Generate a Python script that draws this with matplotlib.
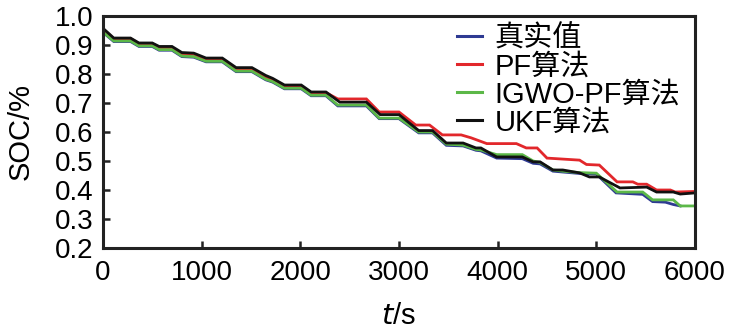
import matplotlib
matplotlib.use("Agg")
import matplotlib.pyplot as plt
from matplotlib import font_manager

# --- data ---
t_ukf = [0, 110, 280, 365, 500, 570, 700, 800, 920, 1045, 1210, 1350, 1510, 1650,
         1720, 1840, 2010, 2110, 2260, 2400, 2670, 2810, 3000, 3200, 3340, 3480,
         3650, 3780, 3830, 3990, 4250, 4360, 4430, 4560, 4660, 4830, 4930, 5030,
         5240, 5510, 5610, 5780, 5850, 6000]
soc_ukf = [0.958, 0.924, 0.924, 0.907, 0.907, 0.895, 0.895, 0.874, 0.872, 0.855,
           0.855, 0.822, 0.822, 0.795, 0.785, 0.762, 0.762, 0.738, 0.738, 0.703,
           0.703, 0.660, 0.660, 0.605, 0.605, 0.562, 0.562, 0.545, 0.545, 0.514,
           0.514, 0.497, 0.497, 0.469, 0.469, 0.459, 0.445, 0.445, 0.407, 0.410,
           0.393, 0.393, 0.386, 0.390]

t_pf = [0, 110, 280, 365, 500, 570, 700, 800, 920, 1045, 1210, 1350, 1510, 1650,
        1720, 1840, 2010, 2110, 2260, 2380, 2670, 2800, 3000, 3170, 3310, 3440,
        3630, 3730, 3890, 4190, 4290, 4400, 4500, 4830, 4900, 5030, 5210, 5370,
        5420, 5510, 5610, 5750, 5800, 6000]
soc_pf = [0.955, 0.922, 0.922, 0.905, 0.905, 0.891, 0.891, 0.870, 0.868, 0.851,
          0.851, 0.818, 0.818, 0.790, 0.782, 0.758, 0.758, 0.736, 0.736, 0.714,
          0.714, 0.669, 0.669, 0.624, 0.624, 0.590, 0.590, 0.580, 0.560, 0.560,
          0.545, 0.545, 0.510, 0.503, 0.488, 0.486, 0.428, 0.428, 0.420, 0.420,
          0.400, 0.400, 0.393, 0.395]

t_igwo = [0, 110, 280, 365, 500, 570, 700, 800, 920, 1045, 1210, 1350, 1510, 1650,
          1720, 1840, 2010, 2110, 2260, 2380, 2670, 2800, 3000, 3200, 3340, 3480,
          3650, 3780, 3830, 3990, 4250, 4360, 4430, 4560, 4660, 4830, 5000, 5210,
          5470, 5570, 5780, 5850, 6000]
soc_igwo = [0.945, 0.914, 0.914, 0.897, 0.897, 0.884, 0.884, 0.862, 0.860, 0.844,
            0.844, 0.810, 0.810, 0.782, 0.774, 0.751, 0.751, 0.727, 0.727, 0.693,
            0.693, 0.648, 0.648, 0.600, 0.600, 0.558, 0.555, 0.540, 0.538, 0.522,
            0.522, 0.500, 0.495, 0.469, 0.465, 0.460, 0.458, 0.393, 0.393, 0.366,
            0.366, 0.345, 0.345]

t_true = [0, 110, 280, 365, 500, 570, 700, 800, 920, 1045, 1210, 1350, 1510, 1650,
          1720, 1840, 2010, 2110, 2260, 2380, 2670, 2800, 3000, 3200, 3340, 3480,
          3650, 3780, 3830, 3990, 4250, 4360, 4430, 4560, 4660, 4830, 5000, 5200,
          5470, 5570, 5700, 5780, 5850]
soc_true = [0.944, 0.912, 0.912, 0.895, 0.895, 0.882, 0.882, 0.860, 0.858, 0.842,
            0.842, 0.808, 0.808, 0.780, 0.772, 0.749, 0.749, 0.725, 0.725, 0.690,
            0.690, 0.646, 0.646, 0.597, 0.597, 0.554, 0.552, 0.537, 0.535, 0.510,
            0.508, 0.492, 0.490, 0.465, 0.462, 0.457, 0.455, 0.390, 0.385, 0.360,
            0.358, 0.350, 0.345]

labels = ["真实值", "PF算法", "IGWO-PF算法", "UKF算法"]
colors = ["#2e3a92", "#e2272b", "#5cb848", "#111111"]

xticks = [0, 1000, 2000, 3000, 4000, 5000, 6000]
yticks = [0.2, 0.3, 0.4, 0.5, 0.6, 0.7, 0.8, 0.9, 1.0]

names = {f.name for f in font_manager.fontManager.ttflist}
latin = "Liberation Sans Narrow" if "Liberation Sans Narrow" in names else "Liberation Sans"
fam = [latin, "Noto Sans CJK SC", "DejaVu Sans"]
plt.rcParams["font.family"] = fam

fig = plt.figure(figsize=(7.35, 3.3), dpi=100)
ax = fig.add_axes([0.140, 0.2485, 0.8056, 0.703])

series = [(t_true, soc_true), (t_pf, soc_pf), (t_igwo, soc_igwo), (t_ukf, soc_ukf)]
for (t, s), lab, c in zip(series, labels, colors):
    ax.plot(t, s, color=c, lw=2.0, label=lab, solid_joinstyle="miter")

ax.set_xlim(0, 6000)
ax.set_ylim(0.2, 1.0)
ax.set_xticks(xticks)
ax.set_yticks(yticks)
ax.set_yticklabels([f"{v:.1f}" for v in yticks])
ax.tick_params(axis="both", direction="in", length=5, width=1.8, labelsize=20,
               color="#222222")
ax.tick_params(axis="x", pad=9)
ax.tick_params(axis="y", pad=7)
for sp in ax.spines.values():
    sp.set_linewidth(2.2)
    sp.set_color("#222222")

ax.set_ylabel("SOC/%", fontsize=21, labelpad=14)
ax.set_xlabel("$\\mathit{t}$/s", fontsize=21, labelpad=11)

leg = ax.legend(loc="upper right", bbox_to_anchor=(1.005, 1.04), frameon=False,
                fontsize=21, handlelength=0.86, handletextpad=0.45,
                labelspacing=0.0, borderaxespad=0.2)
for line in leg.get_lines():
    line.set_linewidth(2.2)

fig.savefig("out.png", dpi=100)
